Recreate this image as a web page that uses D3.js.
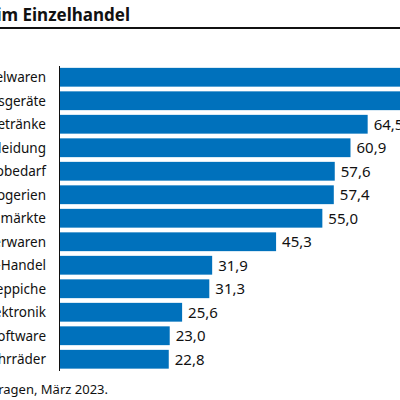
<!DOCTYPE html>
<html><head><meta charset="utf-8">
<script src="https://cdn.jsdelivr.net/npm/d3@7"></script>
<style>body{margin:0;background:#fff}svg{display:block;font-family:"Noto Sans",sans-serif}</style>
</head><body>
<script>
var categories = ['Spielwaren','Haushaltsgeräte','Getränke','Bekleidung','Bürobedarf','Drogerien','Baumärkte','Lederwaren','Kfz-Handel','Teppiche','Elektronik','Software','Fahrräder'];
var values = [75.2, 73.4, 64.5, 60.9, 57.6, 57.4, 55.0, 45.3, 31.9, 31.3, 25.6, 23.0, 22.8];

var svg = d3.select('body').append('svg').attr('width', 400).attr('height', 400);

var x = d3.scaleLinear().domain([0, 10]).range([60, 107.7]);
var y = d3.scaleBand().domain(categories).range([65.5, 371]).paddingInner(0.2).paddingOuter(0.1);
var fmt = function(v) { return d3.format('.1f')(v).replace('.', ','); };

svg.append('text').attr('x', 130).attr('y', 21).attr('text-anchor', 'end')
    .attr('font-size', 17).attr('font-weight', 'bold').attr('fill', '#111')
    .text('Anteil des Onlinehandels im Einzelhandel');
svg.append('line').attr('x1', 0).attr('x2', 400).attr('y1', 28).attr('y2', 28)
    .attr('stroke', '#111').attr('stroke-width', 2);

svg.selectAll('rect.bar').data(values).enter().append('rect')
    .attr('x', x(0)).attr('y', function(d, i) { return y(categories[i]); })
    .attr('width', function(d) { return x(d) - x(0); })
    .attr('height', y.bandwidth()).attr('fill', '#0071bc');

svg.selectAll('text.val').data(values).enter().append('text')
    .attr('x', function(d) { return x(d) + 6; })
    .attr('y', function(d, i) { return y(categories[i]) + y.bandwidth() / 2 + 5.5; })
    .attr('font-size', 15).attr('fill', '#111').text(fmt);

svg.selectAll('text.cat').data(categories).enter().append('text')
    .attr('x', 46).attr('text-anchor', 'end')
    .attr('y', function(d) { return y(d) + y.bandwidth() / 2 + 5; })
    .attr('font-size', 13.5).attr('fill', '#111').text(function(d) { return d; });

svg.append('line').attr('x1', x(0) - 0.5).attr('x2', x(0) - 0.5).attr('y1', 66).attr('y2', 371)
    .attr('stroke', '#111').attr('stroke-width', 1);

svg.append('text').attr('x', 108).attr('y', 394).attr('text-anchor', 'end')
    .attr('font-size', 13).attr('fill', '#111')
    .text('Quelle: Abfragen, März 2023.');
</script>
</body></html>
